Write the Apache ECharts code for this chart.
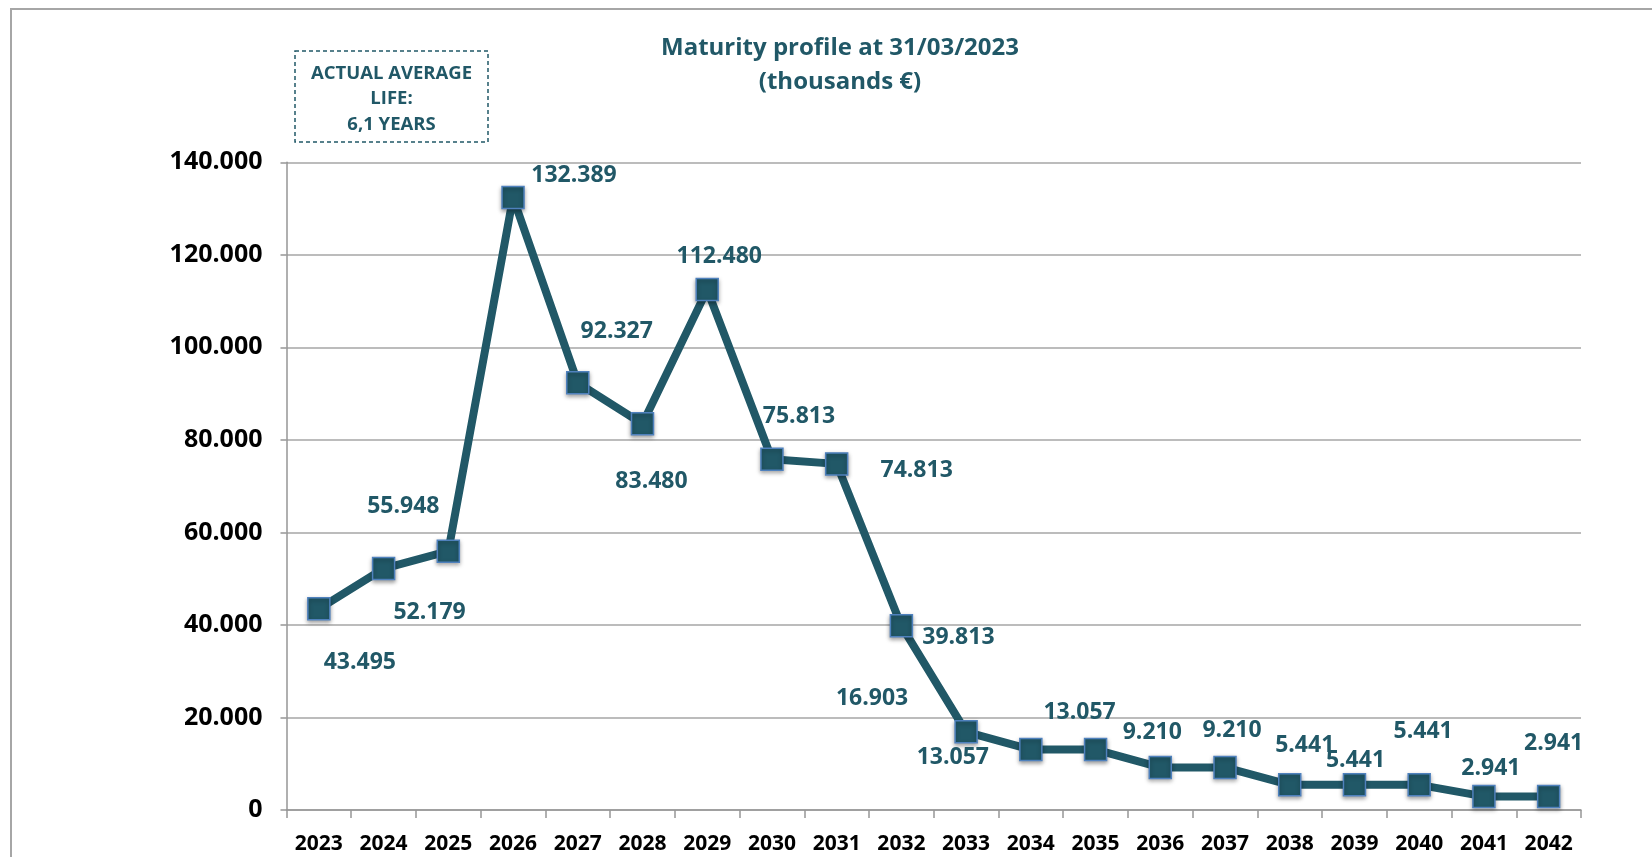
<!DOCTYPE html>
<html>
<head>
<meta charset="utf-8">
<title>Maturity profile</title>
<script src="https://cdn.jsdelivr.net/npm/echarts@6/dist/echarts.min.js"></script>
<style>
    html, body { margin: 0; padding: 0; background: #fff; }
    #chart-container { width: 1652px; height: 857px; }
</style>
</head>
<body>
<div id="chart-container"></div>
<script>
(function(window, echarts){
    'use strict';

    // data (thousands €)
    var years = ['2023', '2024', '2025', '2026', '2027', '2028', '2029', '2030', '2031', '2032',
                 '2033', '2034', '2035', '2036', '2037', '2038', '2039', '2040', '2041', '2042'];
    var maturities = [43495, 52179, 55948, 132389, 92327, 83480, 112480, 75813, 74813, 39813,
                      16903, 13057, 13057, 9210, 9210, 5441, 5441, 5441, 2941, 2941];
    var yTicks = [0, 20000, 40000, 60000, 80000, 100000, 120000, 140000];
    var titleLines = ['Maturity profile at 31/03/2023', '(thousands €)'];
    var boxLines = ['ACTUAL AVERAGE', 'LIFE:', '6,1 YEARS'];

    // where each value label sits, relative to its marker (px)
    var labelOffsets = [
        [41, 54], [46, 44], [-45, -45], [61, -22], [39, -51], [9, 58], [12, -33], [27, -43],
        [80, 7], [57, 12], [-94, -33], [-78, 8], [-16, -37], [-8, -35], [7, -37], [15, -39],
        [1, -24], [4, -53], [7, -28], [5, -53]
    ];

    var TEAL = '#215867';
    var FONT = '"Open Sans", Lato, sans-serif';

    var fmt = function(v) {
        return String(v).replace(/\B(?=(\d{3})+(?!\d))/g, '.');
    };

    var seriesData = maturities.map(function(v, i) {
        return {
            value: v,
            label: { offset: labelOffsets[i] }
        };
    });

    var chart = echarts.init(document.getElementById('chart-container'));

    chart.setOption({
        animation: false,
        backgroundColor: '#fff',
        title: {
            text: titleLines.join('\n'),
            left: 835,
            top: 26,
            textAlign: 'center',
            textStyle: {
                color: TEAL, fontFamily: FONT, fontWeight: 'bold',
                fontSize: 24, lineHeight: 34
            }
        },
        grid: { left: 286.5, right: 71, top: 162.3, bottom: 47, containLabel: false },
        xAxis: {
            type: 'category',
            data: years,
            boundaryGap: true,
            axisLine: { lineStyle: { color: '#969696', width: 1.5 } },
            axisTick: { show: true, length: 8, alignWithLabel: false, lineStyle: { color: '#969696', width: 1.5 } },
            axisLabel: {
                color: '#000', fontFamily: FONT, fontWeight: 'bold', fontSize: 21, margin: 24
            },
            splitLine: { show: false }
        },
        yAxis: {
            type: 'value',
            min: yTicks[0],
            max: yTicks[yTicks.length - 1],
            interval: yTicks[1] - yTicks[0],
            axisLine: { show: true, lineStyle: { color: '#969696', width: 1.5 } },
            axisTick: { show: true, length: 6, lineStyle: { color: '#969696', width: 1.5 } },
            axisLabel: {
                color: '#000', fontFamily: FONT, fontWeight: 'bold', fontSize: 25, margin: 24,
                formatter: fmt
            },
            splitLine: { show: true, lineStyle: { color: '#a6a6a6', width: 1.5 } }
        },
        series: [{
            type: 'line',
            data: seriesData,
            symbol: 'rect',
            symbolSize: 22,
            lineStyle: { color: TEAL, width: 8 },
            itemStyle: {
                color: TEAL,
                borderColor: '#4f81bd',
                borderWidth: 1.5,
                shadowBlur: 4,
                shadowColor: 'rgba(0,0,0,0.35)',
                shadowOffsetY: 2
            },
            label: {
                show: true,
                position: 'inside',
                align: 'center',
                verticalAlign: 'middle',
                color: TEAL,
                fontFamily: FONT,
                fontWeight: 'bold',
                fontSize: 23,
                formatter: function(p) { return fmt(p.value); }
            },
            emphasis: { disabled: true },
            z: 3
        }],
        graphic: [
            {
                type: 'rect',
                shape: { x: 11, y: 9, width: 2000, height: 2000 },
                style: { fill: 'none', stroke: '#a6a6a6', lineWidth: 2 },
                silent: true
            },
            {
                type: 'rect',
                shape: { x: 295, y: 51, width: 193, height: 91 },
                style: { fill: '#fff', stroke: TEAL, lineWidth: 1.5, lineDash: [4, 3] },
                silent: true
            },
            {
                type: 'text',
                x: 391.5,
                y: 99,
                style: {
                    text: boxLines.join('\n'),
                    fill: TEAL,
                    font: 'bold 18.5px ' + FONT,
                    lineHeight: 25.5,
                    align: 'center',
                    verticalAlign: 'middle'
                },
                silent: true
            }
        ]
    });

})(window, window.echarts);
</script>
</body>
</html>
